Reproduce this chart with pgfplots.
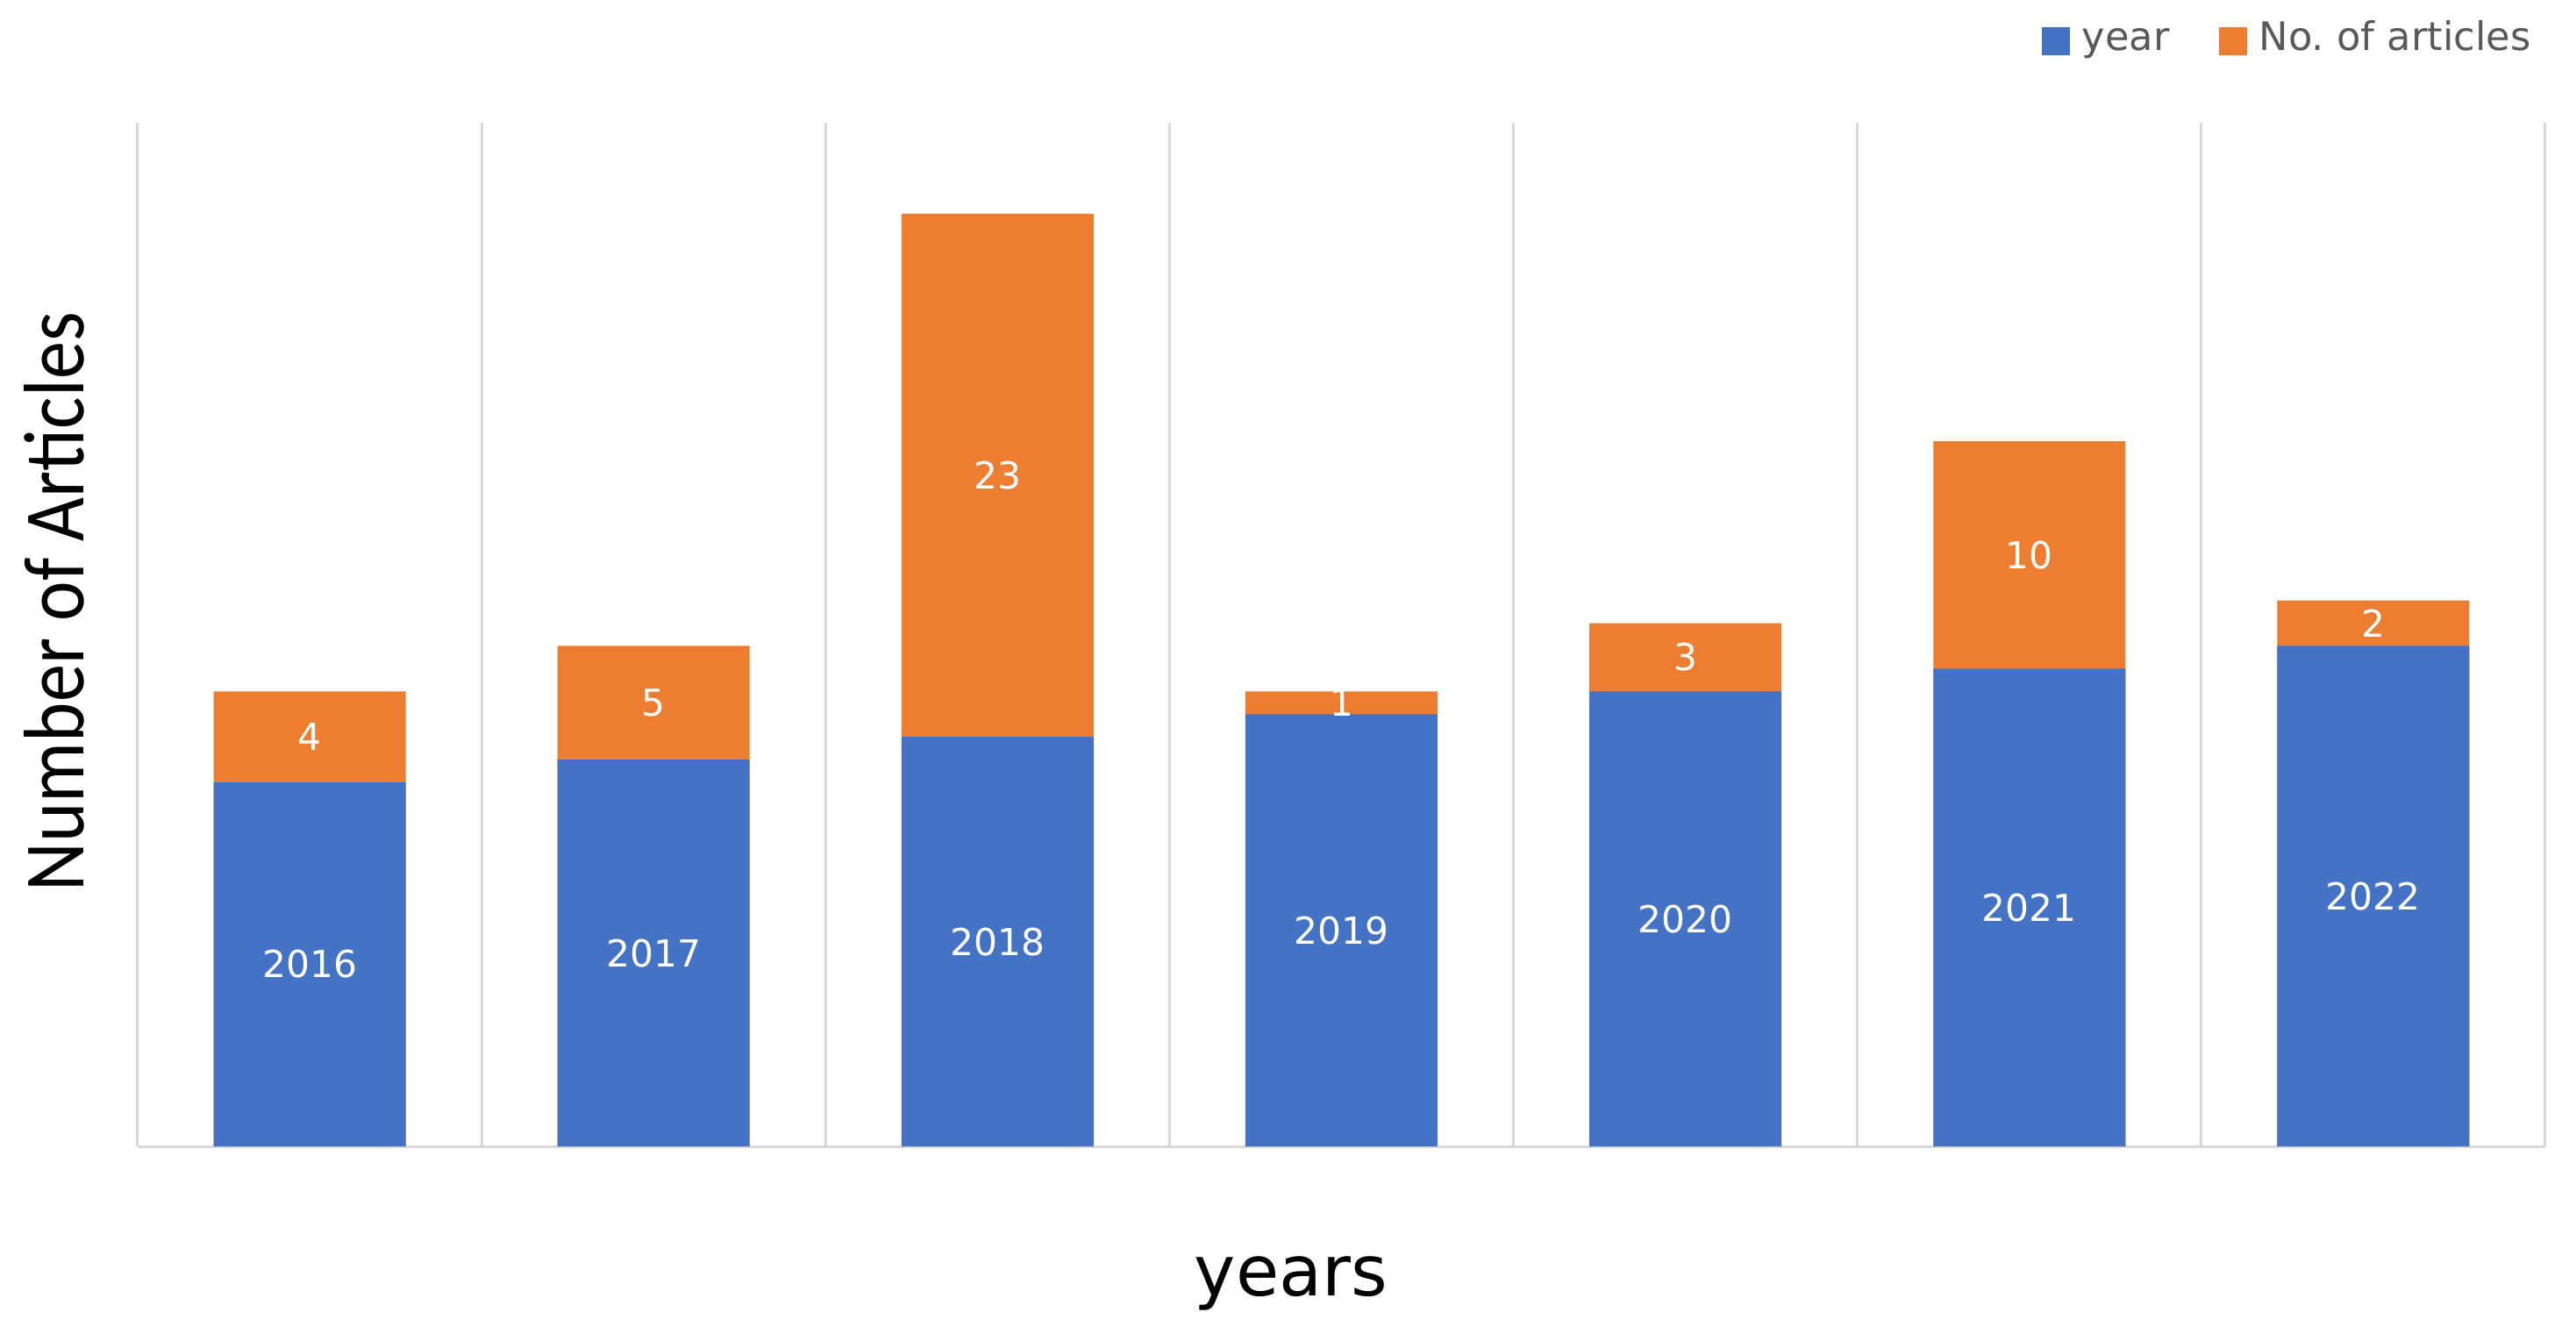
\documentclass[border=0pt]{standalone}
\usepackage{pgfplots}
\usepackage{pgfplotstable}
\pgfplotsset{compat=1.18}
\usepackage{fontspec}
\setmainfont{DejaVu Sans}
\newfontfamily\carlito{Carlito}
\definecolor{cblue}{HTML}{4472C4}
\definecolor{corange}{HTML}{ED7D31}
\definecolor{cgrid}{HTML}{D9D9D9}
\definecolor{ctext}{HTML}{595959}

\pgfplotstableread{
x year total yearmid articles artmid
0 2016 2020 2008   4  2018
1 2017 2022 2008.5 5  2019.5
2 2018 2041 2009   23 2029.5
3 2019 2020 2009.5 1  2019.5
4 2020 2023 2010   3  2021.5
5 2021 2031 2010.5 10 2026
6 2022 2024 2011   2  2023
}\data

\begin{document}
\begin{tikzpicture}
\begin{axis}[
  scale only axis, width=686.25pt, height=291.75pt,
  xmin=-0.5, xmax=6.5, ymin=2000, ymax=2045,
  xtick={-0.5,0.5,...,6.5}, xticklabel=\empty, ytick=\empty,
  major tick length=0pt,
  xmajorgrids, grid style={cgrid, line width=0.75pt},
  axis x line*=bottom, axis y line*=left,
  axis line style={cgrid, line width=0.75pt, -},
  xlabel={\fontsize{20}{24}\selectfont years},
  xlabel style={at={(axis description cs:0.479,-0.1465)}, anchor=base, inner sep=0pt},
  ylabel={\carlito\fontsize{24.5}{28}\selectfont\scalebox{0.88}[1]{Number of Articles}},
  ylabel style={at={(axis description cs:-0.0346,0.532)}, anchor=center, inner sep=0pt},
  legend columns=2, reverse legend,
  legend style={at={(axis description cs:0.7905,1.0797)}, anchor=west,
    draw=none, fill=none, inner sep=0pt,
    font=\fontsize{11.2}{13}\selectfont, text=ctext,
    nodes={inner sep=0pt, text height=0.75em, text depth=0.22em},
    column sep=3.5pt,
    /tikz/every even column/.append style={column sep=14pt}},
]
\addplot[ybar, bar width=54.75pt, bar shift=0pt, fill=corange, draw=none,
  legend image code/.code={\fill[corange] (0pt,-4pt) rectangle (8pt,4pt);}]
  table[x=x, y=total] {\data};
\addlegendentry{No.\ of articles}
\addplot[ybar, bar width=54.75pt, bar shift=0pt, fill=cblue, draw=none,
  legend image code/.code={\fill[cblue] (0pt,-4pt) rectangle (8pt,4pt);}]
  table[x=x, y=year] {\data};
\addlegendentry{year}
\addplot[draw=none, mark=none, forget plot, nodes near coords, point meta=explicit symbolic,
  every node near coord/.style={anchor=center, inner sep=0pt, text=white, font=\fontsize{10.6}{12}\selectfont}]
  table[x=x, y=yearmid, meta=year] {\data};
\addplot[draw=none, mark=none, forget plot, nodes near coords, point meta=explicit symbolic,
  every node near coord/.style={anchor=center, inner sep=0pt, text=white, font=\fontsize{10.6}{12}\selectfont}]
  table[x=x, y=artmid, meta=articles] {\data};
\end{axis}
\pgfresetboundingbox
\path (-39.25pt,-53.5pt) rectangle (695pt,326.75pt);
\end{tikzpicture}
\end{document}
